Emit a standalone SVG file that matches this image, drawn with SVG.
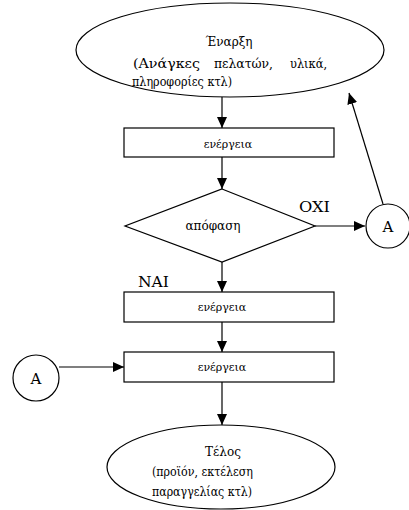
<svg xmlns="http://www.w3.org/2000/svg" width="409" height="510" viewBox="0 0 409 510">
<style>
.s{fill:#fff;stroke:#000;stroke-width:1.2}
.t{font-family:"DejaVu Serif","Liberation Serif",serif;font-size:12px;fill:#000}
.m{font-family:"DejaVu Serif","Liberation Serif",serif;font-size:12px;fill:#000;text-anchor:middle}
.b{font-family:"DejaVu Serif","Liberation Serif",serif;font-size:11px;fill:#000;text-anchor:middle}
.l{font-family:"DejaVu Serif","Liberation Serif",serif;font-size:15px;fill:#000}
.c{stroke:#000;stroke-width:1.2;fill:none;marker-end:url(#ah)}
</style>
<defs>
<marker id="ah" markerWidth="12" markerHeight="10" refX="11" refY="5" orient="auto" markerUnits="userSpaceOnUse">
<path d="M0,0 L11,5 L0,10 Z" fill="#000"/>
</marker>
</defs>
<rect width="409" height="510" fill="#fff"/>
<g id="connectors">
<line class="c" x1="222" y1="97" x2="222" y2="128"/>
<line class="c" x1="222" y1="157" x2="222" y2="189"/>
<line class="c" x1="315" y1="226" x2="365" y2="226"/>
<line class="c" x1="383" y1="204" x2="349" y2="93"/>
<line class="c" x1="222" y1="262" x2="222" y2="292"/>
<line class="c" x1="222" y1="322" x2="222" y2="352"/>
<line class="c" x1="59" y1="367" x2="124" y2="367"/>
<line class="c" x1="222" y1="382" x2="222" y2="425"/>
</g>
<g id="start">
<ellipse class="s" cx="230" cy="50" rx="154" ry="47"/>
<text class="m" x="229" y="46">Έναρξη</text>
<text class="t" x="133" y="68" textLength="67" lengthAdjust="spacingAndGlyphs">(Ανάγκες</text>
<text class="t" x="214" y="68" textLength="59" lengthAdjust="spacingAndGlyphs">πελατών,</text>
<text class="t" x="290" y="68" textLength="37" lengthAdjust="spacingAndGlyphs">υλικά,</text>
<text class="t" x="132" y="86" textLength="100" lengthAdjust="spacingAndGlyphs">πληροφορίες κτλ)</text>
</g>
<g id="action1">
<rect class="s" x="124" y="128" width="210" height="29"/>
<text class="b" x="228" y="148">ενέργεια</text>
</g>
<g id="decision">
<polygon class="s" points="222,189 315,226 222,262 125,226"/>
<text class="m" x="213" y="230">απόφαση</text>
<text class="l" x="299" y="212" textLength="31" lengthAdjust="spacingAndGlyphs">OXI</text>
</g>
<g id="connA-right">
<circle class="s" cx="388" cy="226" r="22"/>
<text class="l" x="388" y="232" text-anchor="middle">A</text>
</g>
<g id="action2">
<rect class="s" x="124" y="292" width="210" height="30"/>
<text class="b" x="222" y="311">ενέργεια</text>
<text class="l" x="138" y="287" textLength="31" lengthAdjust="spacingAndGlyphs">NAI</text>
</g>
<g id="action3">
<rect class="s" x="124" y="352" width="210" height="30"/>
<text class="b" x="222" y="371">ενέργεια</text>
</g>
<g id="connA-left">
<circle class="s" cx="36" cy="378" r="23"/>
<text class="l" x="36" y="384" text-anchor="middle">A</text>
</g>
<g id="end">
<ellipse class="s" cx="221" cy="467" rx="114" ry="42"/>
<text class="m" x="223" y="456">Τέλος</text>
<text class="t" x="152" y="476" textLength="101" lengthAdjust="spacingAndGlyphs">(προϊόν, εκτέλεση</text>
<text class="t" x="152" y="496" textLength="100" lengthAdjust="spacingAndGlyphs">παραγγελίας κτλ)</text>
</g>
</svg>
